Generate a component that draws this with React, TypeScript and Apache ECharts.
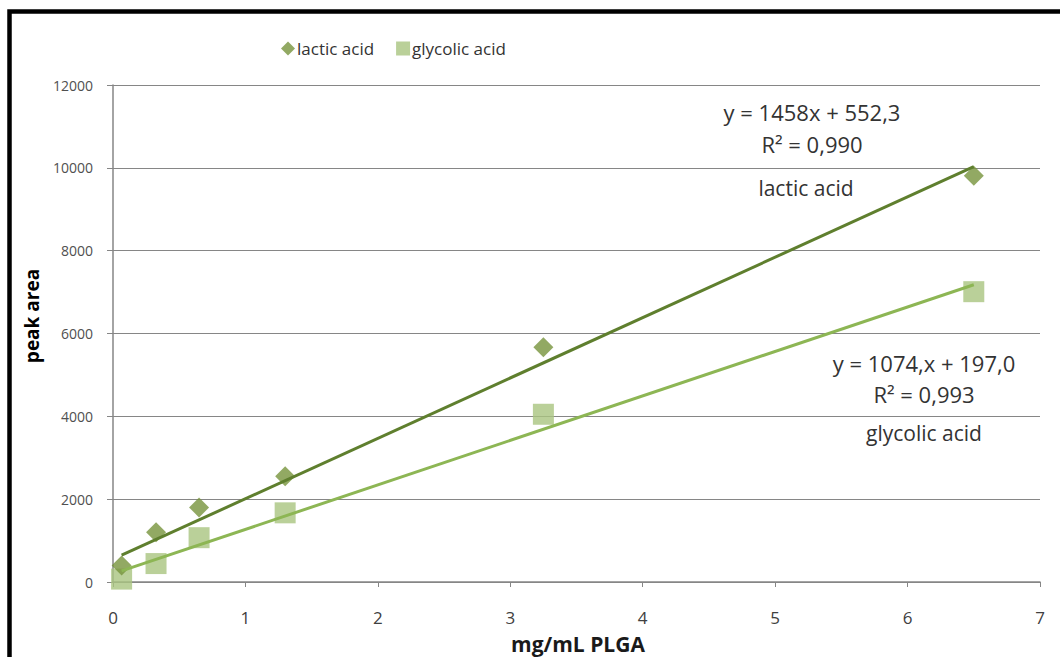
import React, { useEffect, useRef } from "react";
import * as echarts from "echarts";

const lacticX = [0.065, 0.325, 0.65, 1.3, 3.25, 6.5];
const lacticY = [400, 1200, 1800, 2555, 5670, 9810];
const glycolicX = [0.065, 0.325, 0.65, 1.3, 3.25, 6.5];
const glycolicY = [70, 445, 1070, 1670, 4050, 7010];

const lacticFit = { slope: 1458, intercept: 552.3 };
const glycolicFit = { slope: 1074, intercept: 197.0 };

const xTicks = { min: 0, max: 7, interval: 1 };
const yTicks = { min: 0, max: 12000, interval: 2000 };

const lacticEq = ["y = 1458x + 552,3", "R² = 0,990", "lactic acid"];
const glycolicEq = ["y = 1074,x + 197,0", "R² = 0,993", "glycolic acid"];

const FONT = "'Open Sans', sans-serif";

function fitLine(xs: number[], fit: { slope: number; intercept: number }) {
  const lo = Math.min(...xs);
  const hi = Math.max(...xs);
  return [
    [lo, fit.slope * lo + fit.intercept],
    [hi, fit.slope * hi + fit.intercept],
  ];
}

export default function App() {
  const ref = useRef<HTMLDivElement>(null);
  useEffect(() => {
    if (!ref.current) return;
    const chart = echarts.init(ref.current, null, { renderer: "svg" });
    const txt = (x: number, y: number, s: string, size: number, extra: any = {}, rot = 0) => ({
      type: "text",
      x,
      y,
      rotation: rot,
      style: {
        text: s,
        fontSize: size,
        fontFamily: FONT,
        fill: "#333333",
        textAlign: "center",
        textVerticalAlign: "middle",
        ...extra,
      },
    });
    chart.setOption({
      animation: false,
      backgroundColor: "#ffffff",
      grid: { left: 113, right: 20, top: 85, bottom: 75, containLabel: false },
      legend: {
        left: 281,
        top: 40,
        padding: 0,
        itemGap: 22,
        itemWidth: 14,
        itemHeight: 14,
        data: [
          { name: "lactic acid", icon: "diamond" },
          { name: "glycolic acid", icon: "rect" },
        ],
        textStyle: { fontFamily: FONT, fontSize: 17, color: "#333333", padding: [0, 0, 0, -3] },
      },
      xAxis: {
        type: "value",
        min: xTicks.min,
        max: xTicks.max,
        interval: xTicks.interval,
        axisLine: { show: true, lineStyle: { color: "#868686", width: 1.5 } },
        axisTick: { show: true, length: 5, lineStyle: { color: "#868686" } },
        splitLine: { show: false },
        axisLabel: { fontFamily: FONT, fontSize: 17, color: "#404040", margin: 27 },
      },
      yAxis: {
        type: "value",
        min: yTicks.min,
        max: yTicks.max,
        interval: yTicks.interval,
        axisLine: { show: true, lineStyle: { color: "#868686", width: 1.5 } },
        axisTick: { show: true, length: 6, inside: false, lineStyle: { color: "#868686" } },
        splitLine: { show: true, lineStyle: { color: "#868686", width: 1.2 } },
        axisLabel: {
          fontFamily: FONT,
          fontSize: 14,
          color: "#505050",
          margin: 20,
          formatter: (v: number) => String(v),
        },
      },
      series: [
        {
          name: "lactic acid",
          type: "scatter",
          symbol: "diamond",
          symbolSize: 20,
          itemStyle: { color: "#77933c" },
          data: lacticX.map((x, i) => [x, lacticY[i]]),
          z: 3,
        },
        {
          name: "glycolic acid",
          type: "scatter",
          symbol: "rect",
          symbolSize: 21,
          itemStyle: { color: "#a9c47f" },
          data: glycolicX.map((x, i) => [x, glycolicY[i]]),
          z: 2,
        },
        {
          name: "lactic fit",
          type: "line",
          showSymbol: false,
          symbol: "none",
          lineStyle: { color: "#5f7f2e", width: 3 },
          data: fitLine(lacticX, lacticFit),
          z: 4,
        },
        {
          name: "glycolic fit",
          type: "line",
          showSymbol: false,
          symbol: "none",
          lineStyle: { color: "#8db654", width: 3 },
          data: fitLine(glycolicX, glycolicFit),
          z: 4,
        },
      ],
      graphic: [
        {
          type: "rect",
          shape: { x: 9.5, y: 11.5, width: 1200, height: 800 },
          style: { fill: "none", stroke: "#000000", lineWidth: 4.5 },
        },
        txt(32, 316, "peak area", 19, { fontWeight: "bold", fill: "#000000" }, Math.PI / 2),
        txt(578, 644, "mg/mL PLGA", 21, { fontWeight: "bold", fill: "#1a1a1a" }),
        txt(812, 112, lacticEq[0], 22),
        txt(812, 144, lacticEq[1], 22),
        txt(806, 188, lacticEq[2], 21),
        txt(924, 363, glycolicEq[0], 22),
        txt(924, 394, glycolicEq[1], 22),
        txt(924, 433, glycolicEq[2], 21),
      ],
    });
    return () => chart.dispose();
  }, []);
  return (
    <div
      ref={ref}
      style={{ position: "fixed", left: 0, top: 0, width: 1060, height: 657 }}
    />
  );
}
